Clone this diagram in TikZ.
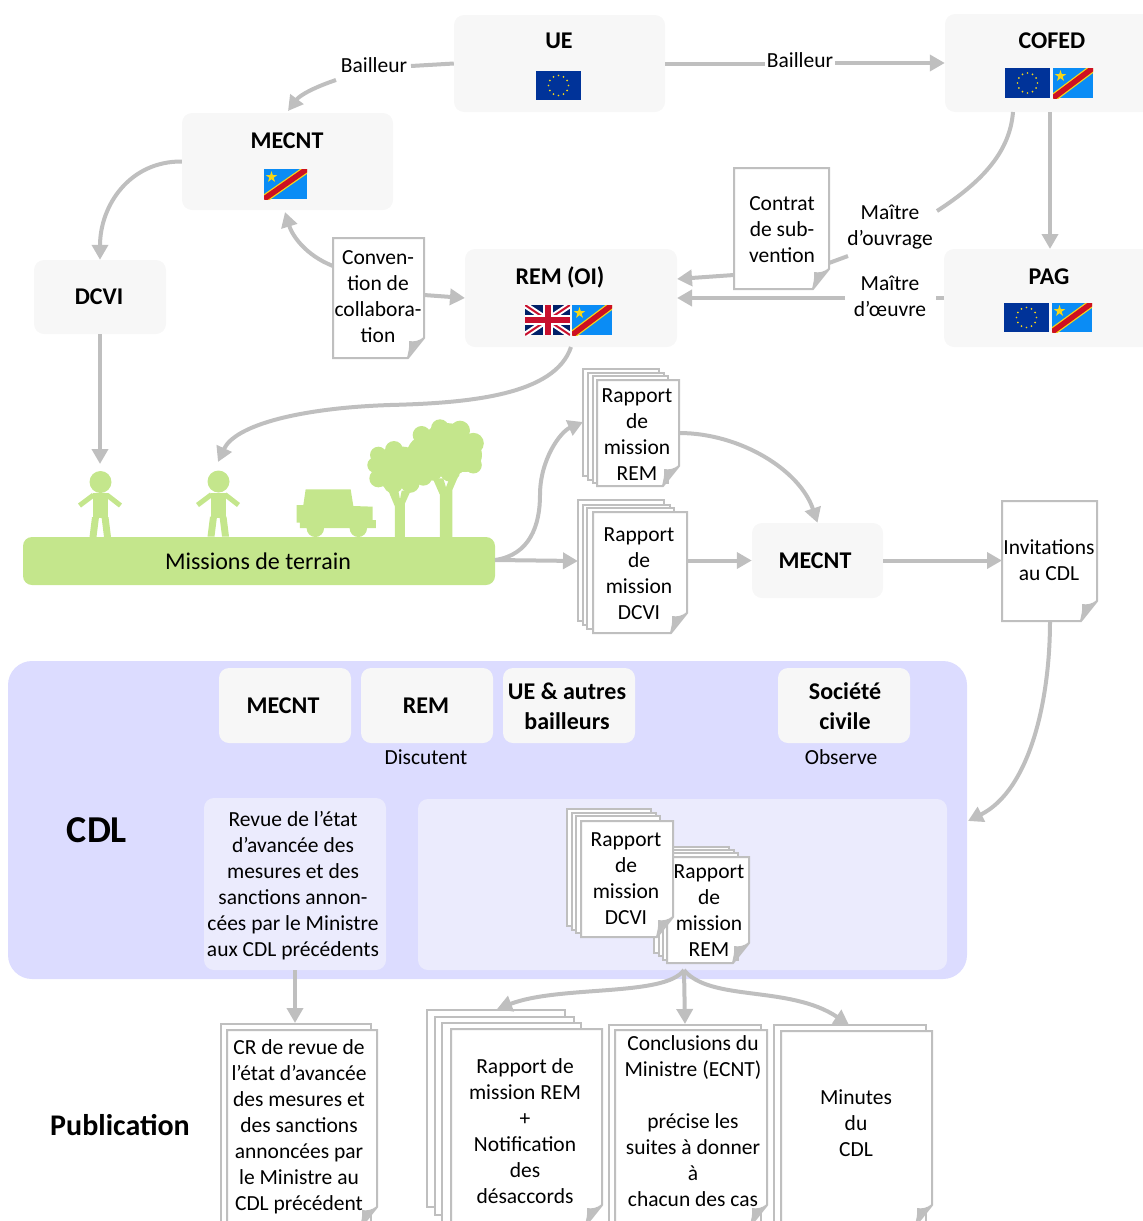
\documentclass[tikz,border=0pt]{standalone}
\usepackage{fontspec}
\setmainfont{Carlito}
\usetikzlibrary{arrows.meta,fit}
\definecolor{conn}{HTML}{BFBFBF}
\definecolor{boxf}{HTML}{F7F7F7}
\definecolor{green1}{HTML}{C4E68C}
\definecolor{cdlf}{HTML}{DCDCFF}
\definecolor{cdli}{HTML}{EBEBFD}
\definecolor{eub}{HTML}{003399}
\definecolor{drcb}{HTML}{0A8CF5}
\definecolor{yel}{HTML}{F7D618}
\definecolor{drcr}{HTML}{CE1021}
\definecolor{ukb}{HTML}{012169}
\definecolor{ukr}{HTML}{C8102E}
\tikzset{
 x=1pt,y=-1pt,
 txt/.style={font=\fontsize{21.5}{26}\selectfont,align=center,inner sep=0pt,text=black},
 lab/.style={txt,inner sep=2pt},
 btxt/.style={font=\fontsize{24}{30}\selectfont\bfseries,align=center,inner sep=0pt,text=black},
 rbox/.style={fill=boxf,rounded corners=10pt,inner sep=0pt},
 cline/.style={draw=conn,line width=4pt},
 carrow/.style={cline,-{Triangle[length=15pt,width=16pt]}},
 paper/.style={draw=conn,line width=2pt,fill=white,line join=miter},
 frame/.style={inner sep=0pt,outer sep=0pt},
}
% flags
\newcommand{\euflag}[4]{%
 \fill[eub] (#1,#2) rectangle (#3,#4);
 \foreach \a in {0,30,...,330}{\fill[yel] ({(#1+#3)/2+10*cos(\a)},{(#2+#4)/2+10*sin(\a)}) circle (0.95pt);}
}
\newcommand{\drcflag}[4]{%
 \begin{scope}
 \clip (#1,#2) rectangle (#3,#4);
 \fill[drcb] (#1,#2) rectangle (#3,#4);
 \draw[yel,line width=8pt] (#1,#4) -- (#3,#2);
 \draw[drcr,line width=5.5pt] (#1,#4) -- (#3,#2);
 \fill[yel] ({#1+7.5},{#2+8}) +(-90:6) -- +(-54:2.3) -- +(-18:6) -- +(18:2.3) -- +(54:6) -- +(90:2.3) -- +(126:6) -- +(162:2.3) -- +(198:6) -- +(234:2.3) -- cycle;
 \end{scope}
}
\newcommand{\ukflag}[4]{%
 \begin{scope}
 \clip (#1,#2) rectangle (#3,#4);
 \fill[ukb] (#1,#2) rectangle (#3,#4);
 \draw[white,line width=6pt] (#1,#2) -- (#3,#4) (#1,#4) -- (#3,#2);
 \draw[ukr,line width=2pt] (#1,#2) -- (#3,#4) (#1,#4) -- (#3,#2);
 \draw[white,line width=10pt] ({(#1+#3)/2},#2) -- ({(#1+#3)/2},#4) (#1,{(#2+#4)/2}) -- (#3,{(#2+#4)/2});
 \draw[ukr,line width=6pt] ({(#1+#3)/2},#2) -- ({(#1+#3)/2},#4) (#1,{(#2+#4)/2}) -- (#3,{(#2+#4)/2});
 \end{scope}
}
% rounded box
\newcommand{\bx}[5]{\node[rbox,fit={(#2,#3)(#4,#5)}] (#1) {};}
% back sheet
\newcommand{\sheet}[4]{\draw[paper] (#1,#2) rectangle (#3,#4);}
% front sheet with folded corner: name x1 y1 x2 y2 textx texty text
\newcommand{\docp}[8]{%
 \draw[paper] (#2,#3) -- (#4,#3) -- (#4,{#5-20}) -- ({#4-16},#5) -- (#2,#5) -- cycle;
 \fill[conn] (#4,{#5-21}) .. controls ({#4-5},{#5-17}) and ({#4-10},{#5-16}) .. ({#4-15},{#5-17}) .. controls ({#4-14},{#5-11}) and ({#4-16},{#5-5}) .. ({#4-17},#5) -- cycle;
 \node[frame,fit={(#2,#3)(#4,#5)}] (#1) {};
 \node[txt] (#1-t) at (#6,#7) {#8};
}
\newcommand{\person}[2]{%
 \begin{scope}[shift={(#1,#2)}]
 \fill[green1] (0,-11) circle (11pt);
 \fill[green1] (-8,0) rectangle (7.5,25);
 \draw[green1,line width=5pt] (-7,2) -- (-21,12.5);
 \draw[green1,line width=5pt] (6.5,2) -- (20,12.5);
 \fill[green1] (-8.5,24) -- (-11,44) -- (-4,44) -- (-1.5,24) -- cycle;
 \fill[green1] (1,24) -- (3.5,44) -- (10.5,44) -- (8,24) -- cycle;
 \end{scope}
}
\begin{document}
\begin{tikzpicture}
\useasboundingbox (0,0) rectangle (1143,1221);
\clip (0,0) rectangle (1143,1221);
% ---------- top boxes
\bx{ue}{454}{15}{665}{112}
\node[btxt] (ueL) at (559,41) {UE};
\euflag{536}{71}{581}{100}
\bx{cofed}{945}{14}{1175}{112}
\node[btxt] (cofedL) at (1052,41) {COFED};
\euflag{1005}{68}{1050}{98}
\drcflag{1053}{68}{1093}{98}
\bx{mecnt}{182}{113}{393}{210}
\node[btxt] (mecntL) at (287,141) {MECNT};
\drcflag{264}{169}{307}{199}
\bx{dcvi}{34}{260}{166}{334}
\node[btxt] (dcviL) at (99,297) {DCVI};
\bx{rem}{465}{249}{677}{347}
\node[btxt] (remL) at (560,277) {REM (OI)};
\ukflag{525}{305}{570}{335}
\drcflag{572}{305}{612}{335}
\bx{pag}{944}{249}{1175}{347}
\node[btxt] (pagL) at (1049,277) {PAG};
\euflag{1004}{303}{1049}{332}
\drcflag{1052}{303}{1092}{332}
% documents top
\docp{contrat}{734}{168}{829}{289}{782}{230}{Contrat\\de sub-\\vention}
\docp{conv}{333}{238}{424}{358}{378}{297}{Conven-\\tion de\\collabora-\\tion}
% labels
\node[lab] (b1) at (374,65) {Bailleur};
\node[lab] (b2) at (800,60) {Bailleur};
\node[lab] (mo) at (890,227) {Maître\\d’ouvrage};
\node[lab] (moe) at (890,296) {Maître\\d’œuvre};
% named free ends
\coordinate (p1) at (100,464);
\coordinate (p2) at (218,462);
\coordinate (cofedA) at (1013,112);
\coordinate (cofedB) at (1050,112);
\coordinate (pagT) at (1050,249);
\coordinate (moA) at (937,211);
\coordinate (moB) at (848,256);
\coordinate (contA) at (829,263);
\coordinate (contB) at (734,275);
\coordinate (remA) at (677,279);
\coordinate (remB) at (677,298);
\coordinate (pagW) at (944,298);
\coordinate (moeE) at (936,298);
\coordinate (moeW) at (845,298);
\coordinate (b1a) at (336,80);
\coordinate (b1e) at (411,66);
\coordinate (mecntT) at (288,111);
\coordinate (convA) at (333,266);
\coordinate (mecntB) at (285,212);
\coordinate (convE) at (424,295);
\coordinate (remW) at (465,298);
\coordinate (remS) at (571,347);
\coordinate (mid1) at (390,405);
% connectors top
\draw[cline] (ue.west) -- (b1e);
\draw[carrow] (b1a) .. controls (315,87) and (300,95) .. (mecntT);
\draw[cline] (ue.east) -- (b2.west |- ue.east);
\draw[carrow] (b2.east |- cofed.west) -- (cofed.west);
\draw[cline] (cofedA) .. controls (1010,150) and (985,180) .. (moA);
\draw[cline] (moB) -- (contA);
\draw[carrow] (contB) -- (remA);
\draw[carrow] (cofedB) -- (pagT);
\draw[cline] (pagW) -- (moeE);
\draw[carrow] (moeW) -- (remB);
\draw[carrow] (mecnt.west) .. controls (130,161) and (100,205) .. (dcvi.north);
\draw[carrow] (convA) .. controls (305,255) and (292,235) .. (mecntB);
\draw[carrow] (convE) -- (remW);
\draw[carrow] (dcvi.south) -- (p1);
\draw[carrow] (remS) .. controls (555,395) and (470,403) .. (mid1) .. controls (300,408) and (235,425) .. (p2);
% ---------- field scene
\person{100.5}{493}
\person{218.5}{492.5}
\begin{scope}[shift={(0,400)},x=0.33333pt,y=-0.33333pt]
 % car
 \fill[green1] (917,268) -- (1052,268) -- (1060,318) -- (1118,320) -- (1118,360) -- (1128,360) -- (1128,384) -- (900,384) -- (900,368) -- (890,368) -- (890,315) -- (910,315) -- cycle;
 \fill[green1] (946,385) circle (8.7pt);
 \fill[green1] (1075,385) circle (8.7pt);
 % tree 1
 \fill[green1] (1185,415) -- (1185,320) -- (1165,272) -- (1195,272) -- (1200,298) -- (1205,272) -- (1232,272) -- (1215,310) -- (1215,415) -- cycle;
 \foreach \a/\b/\r in {1135/165/8.3,1182/150/9,1125/195/7.7,1135/235/9,1180/250/10,1230/250/9.5,1175/205/20,1250/190/14,1210/185/15,1270/230/9}{\fill[green1] (\a,\b) circle (\r pt);}
 % tree 2
 \fill[green1] (1320,415) -- (1320,285) -- (1298,235) -- (1330,235) -- (1338,262) -- (1348,235) -- (1372,235) -- (1357,270) -- (1357,415) -- cycle;
 \foreach \a/\b/\r in {1265/105/9,1320/85/9,1380/92/10,1420/130/10.5,1420/195/8.5,1340/150/27,1350/215/10,1280/165/20,1395/165/17,1300/215/9,1290/120/10}{\fill[green1] (\a,\b) circle (\r pt);}
\end{scope}
\node[fill=green1,rounded corners=9pt,inner sep=0pt,fit={(23,537)(495,585)}] (field) {};
\node[txt,font=\fontsize{24}{26}\selectfont] (fieldL) at (258,561) {Missions de terrain};
% ---------- reports middle
\sheet{583}{369}{659}{476}
\sheet{588}{373}{664}{480}
\sheet{593}{376}{668}{483}
\docp{rapR}{597}{380}{679}{486}{637}{435}{Rapport\\de\\mission\\REM}
\sheet{578}{500}{664}{621}
\sheet{583}{505}{670}{625}
\sheet{587}{508}{674}{629}
\docp{rapD}{593}{512}{687}{633}{639}{574}{Rapport\\de\\mission\\DCVI}
\bx{mecnt2}{752}{523}{883}{598}
\node[btxt] (mecnt2L) at (815,561) {MECNT};
\docp{invit}{1002}{501}{1097}{621}{1049}{560}{Invitations\\au CDL}
\coordinate (stackR) at (583,422);
\coordinate (stackD) at (578,561);
\coordinate (fieldE) at (495,560);
\coordinate (mid2) at (540,495);
\draw[carrow] (fieldE) .. controls (530,555) and (540,525) .. (mid2) .. controls (540,460) and (560,432) .. (stackR);
\draw[carrow] (fieldE) -- (stackD);
\draw[carrow] (rapR.east) .. controls (740,433) and (800,470) .. (mecnt2.north);
\draw[carrow] (rapD.east |- mecnt2.west) -- (mecnt2.west);
\draw[carrow] (mecnt2.east) -- (invit.west |- mecnt2.east);
% ---------- CDL
\node[fill=cdlf,rounded corners=24pt,fit={(8,661)(967,979)},inner sep=0pt] (cdl) {};
\bx{m3}{219}{668}{351}{743}
\bx{r3}{361}{668}{493}{743}
\bx{u3}{503}{668}{635}{743}
\bx{s3}{778}{668}{910}{743}
\node[btxt] (m3L) at (283,706) {MECNT};
\node[btxt] (r3L) at (426,706) {REM};
\node[btxt] (u3L) at (567,706) {UE \& autres\\bailleurs};
\node[btxt] (s3L) at (845,706) {Société\\civile};
\node[lab] (disc) at (426,757) {Discutent};
\node[lab] (obs) at (841,757) {Observe};
\node[font=\fontsize{38}{40}\selectfont\bfseries,inner sep=0pt] (cdlL) at (97,830) {CDL};
\node[fill=cdli,rounded corners=10pt,fit={(204,798)(386,970)},inner sep=0pt] (pl) {};
\node[txt] (plT) at (293,886) {Revue de l’état\\d’avancée des\\mesures et des\\sanctions annon-\\cées par le Ministre\\aux CDL précédents};
\node[fill=cdli,rounded corners=10pt,fit={(418,799)(947,970)},inner sep=0pt] (pr) {};
\sheet{654}{847}{729}{953}
\sheet{659}{850}{734}{956}
\sheet{663}{853}{738}{960}
\docp{rapR2}{667}{857}{749}{963}{709}{911}{Rapport\\de\\mission\\REM}
\sheet{567}{809}{651}{926}
\sheet{572}{813}{656}{930}
\sheet{576}{816}{660}{933}
\docp{rapD2}{581}{821}{673}{937}{626}{879}{Rapport\\de\\mission\\DCVI}
\coordinate (invS) at (1050,621);
\coordinate (cdlE) at (968,821);
\draw[carrow] (invS) .. controls (1050,700) and (1030,790) .. (cdlE);
% ---------- publication
\node[btxt,font=\fontsize{30}{32}\selectfont\bfseries] (pub) at (120,1125) {Publication};
\sheet{221}{1024}{371}{1240}
\docp{cr}{227}{1030}{377}{1227}{299}{1127}{CR de revue de\\l’état d’avancée\\des mesures et\\des sanctions\\annoncées par\\le Ministre au\\CDL précédent}
\sheet{427}{1010}{565}{1207}
\sheet{435}{1017}{574}{1215}
\sheet{442}{1023}{581}{1240}
\docp{rm}{451}{1029}{602}{1225}{525}{1131}{Rapport de\\mission REM\\+\\Notification\\des\\désaccords}
\sheet{609}{1025}{761}{1240}
\docp{cc}{615}{1030}{767}{1225}{693}{1121}{Conclusions du\\Ministre (ECNT)\\\\précise les\\suites à donner\\à\\chacun des cas}
\sheet{774}{1025}{926}{1240}
\docp{mi}{781}{1031}{932}{1225}{856}{1123}{Minutes\\du\\CDL}
\coordinate (plS) at (295,970);
\coordinate (crT) at (295,1023);
\coordinate (fan) at (684,970);
\coordinate (rmT) at (497,1009);
\coordinate (ccT) at (685,1024);
\coordinate (miT) at (849,1025);
\draw[carrow] (plS) -- (crT);
\draw[carrow] (fan) .. controls (665,997) and (560,985) .. (rmT);
\draw[carrow] (fan) -- (ccT);
\draw[carrow] (fan) .. controls (710,1002) and (790,985) .. (miT);
\end{tikzpicture}
\end{document}
